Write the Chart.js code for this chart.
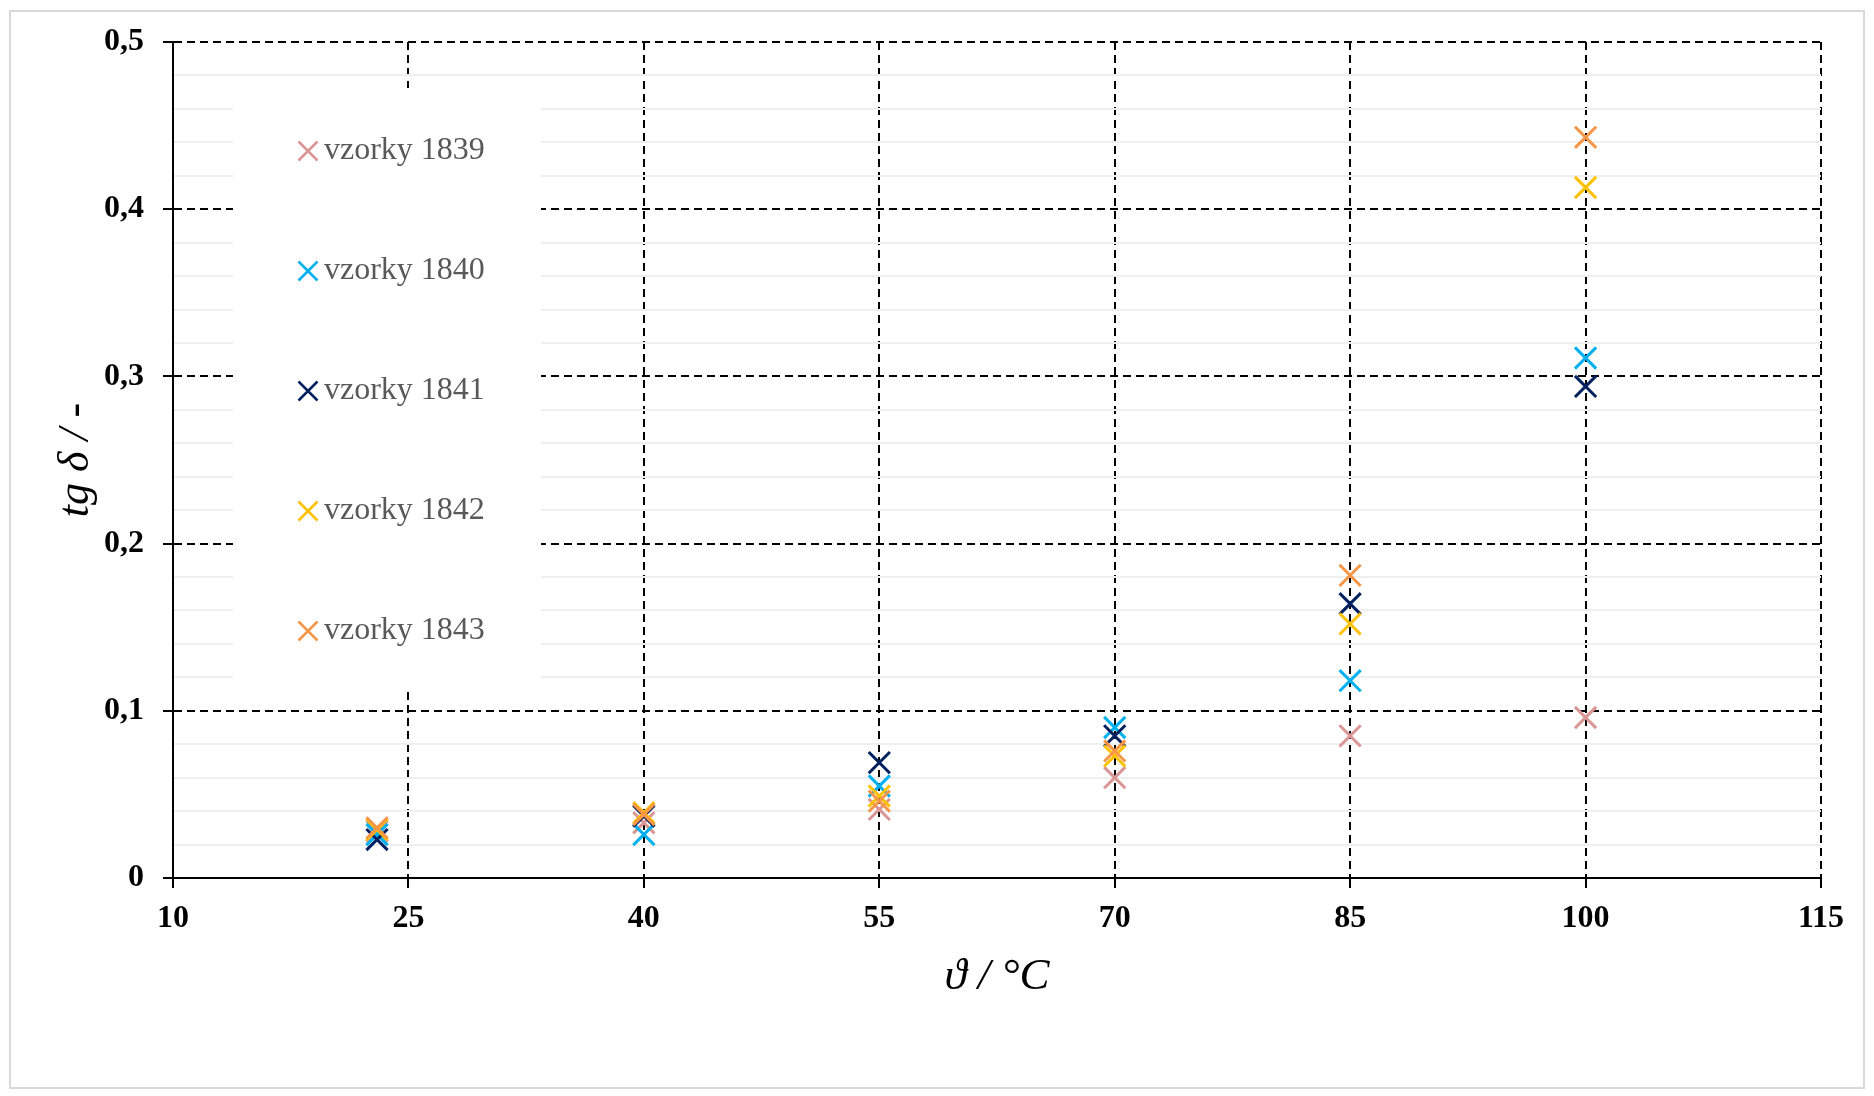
<!DOCTYPE html>
<html>
<head>
<meta charset="utf-8">
<script src="https://cdn.jsdelivr.net/npm/chart.js@4.4.1/dist/chart.umd.min.js"></script>
<style>
  html, body { margin: 0; padding: 0; background: #fff; }
  #wrap { position: relative; width: 1874px; height: 1096px; }
  #frame { position: absolute; left: 9px; top: 10px; width: 1856px; height: 1079px; border: 2px solid #D9D9D9; box-sizing: border-box; }
  canvas { position: absolute; left: 0; top: 0; }
</style>
</head>
<body>
<div id="wrap">
  <div id="frame"></div>
  <canvas id="c" width="1874" height="1096"></canvas>
</div>
<script>
// ---- data ----
const temperatures = [23, 40, 55, 70, 85, 100];
const seriesNames = ['vzorky 1839', 'vzorky 1840', 'vzorky 1841', 'vzorky 1842', 'vzorky 1843'];
const vzorky1839 = [0.028, 0.033, 0.041, 0.060, 0.085, 0.096];
const vzorky1840 = [0.026, 0.026, 0.055, 0.090, 0.118, 0.311];
const vzorky1841 = [0.023, 0.037, 0.069, 0.085, 0.164, 0.294];
const vzorky1842 = [0.029, 0.039, 0.049, 0.073, 0.152, 0.413];
const vzorky1843 = [0.030, 0.038, 0.046, 0.076, 0.181, 0.443];
const xTickValues = [10, 25, 40, 55, 70, 85, 100, 115];
const yTickLabels = ['0', '0,1', '0,2', '0,3', '0,4', '0,5'];
const seriesColors = ['#DA9694', '#00B0F0', '#002060', '#FFC000', '#F79646'];

const allSeries = [vzorky1839, vzorky1840, vzorky1841, vzorky1842, vzorky1843];
const FONT = "'Liberation Serif', 'Times New Roman', serif";

const datasets = allSeries.map((vals, i) => ({
  label: seriesNames[i],
  data: temperatures.map((t, j) => ({ x: t, y: vals[j] })),
  order: allSeries.length - i,
  pointStyle: 'crossRot',
  pointRadius: 15,
  pointHoverRadius: 15,
  pointBorderWidth: 3,
  pointHoverBorderWidth: 3,
  borderColor: seriesColors[i],
  backgroundColor: seriesColors[i],
  showLine: false
}));

function isMajorY(v) { return Math.round(v * 100) % 10 === 0; }

const legendPlugin = {
  id: 'insideLegend',
  afterDraw(chart) {
    const ctx = chart.ctx;
    const box = { x: 233, y: 88, w: 308, h: 600 };
    ctx.save();
    ctx.fillStyle = '#ffffff';
    ctx.fillRect(box.x, box.y, box.w, box.h);
    const step = box.h / seriesNames.length;
    seriesNames.forEach((name, i) => {
      const cy = box.y + step * (i + 0.5) + 3;
      const cx = 308;
      const r = 9.5;
      ctx.strokeStyle = seriesColors[i];
      ctx.lineWidth = 2.5;
      ctx.beginPath();
      ctx.moveTo(cx - r, cy - r); ctx.lineTo(cx + r, cy + r);
      ctx.moveTo(cx - r, cy + r); ctx.lineTo(cx + r, cy - r);
      ctx.stroke();
      ctx.fillStyle = '#595959';
      ctx.font = "32px " + FONT;
      ctx.textBaseline = 'middle';
      ctx.textAlign = 'left';
      ctx.fillText(name, 324, cy);
    });
    ctx.restore();
  }
};

new Chart(document.getElementById('c'), {
  type: 'scatter',
  data: { datasets },
  plugins: [legendPlugin],
  options: {
    responsive: false,
    animation: false,
    events: [],
    layout: { padding: { left: 0, top: 42, right: 53, bottom: 0 } },
    plugins: { legend: { display: false }, tooltip: { enabled: false } },
    scales: {
      x: {
        type: 'linear',
        min: 10, max: 115,
        afterFit(scale) { scale.height = 218; },
        afterBuildTicks(scale) { scale.ticks = xTickValues.map(v => ({ value: v })); },
        ticks: {
          autoSkip: false,
          maxRotation: 0,
          padding: 12,
          color: '#000',
          font: { family: FONT, size: 32, weight: 'bold' },
          callback: v => String(v)
        },
        grid: {
          color: '#000',
          lineWidth: 2,
          drawTicks: true,
          tickLength: 10,
          tickColor: '#000',
          tickWidth: 2,
          tickBorderDash: []
        },
        border: { display: true, color: '#000', width: 2, dash: [8, 5] },
        title: {
          display: true,
          text: 'ϑ / °C',
          color: '#000',
          font: { family: FONT, size: 45, style: 'italic' },
          padding: { top: 0, bottom: 92 }
        }
      },
      y: {
        type: 'linear',
        min: 0, max: 0.5,
        afterFit(scale) { scale.width = 173; },
        ticks: {
          stepSize: 0.02,
          autoSkip: false,
          padding: 19,
          color: '#000',
          font: { family: FONT, size: 32, weight: 'bold' },
          callback: v => isMajorY(v) ? yTickLabels[Math.round(v * 10)] : ''
        },
        grid: {
          color: c => (c.tick && isMajorY(c.tick.value)) ? '#000' : '#EFEFEF',
          lineWidth: 2,
          drawTicks: true,
          tickLength: 10,
          tickColor: c => (c.tick && isMajorY(c.tick.value)) ? '#000' : 'rgba(0,0,0,0)',
          tickWidth: 2,
          tickBorderDash: []
        },
        border: {
          display: true, color: '#000', width: 2,
          dash: c => (c.tick && isMajorY(c.tick.value)) ? [8, 5] : []
        },
        title: {
          display: true,
          text: 'tg δ / -',
          color: '#000',
          font: { family: FONT, size: 44, style: 'italic' },
          padding: { top: 50, bottom: 0 }
        }
      }
    }
  }
});
</script>
</body>
</html>
